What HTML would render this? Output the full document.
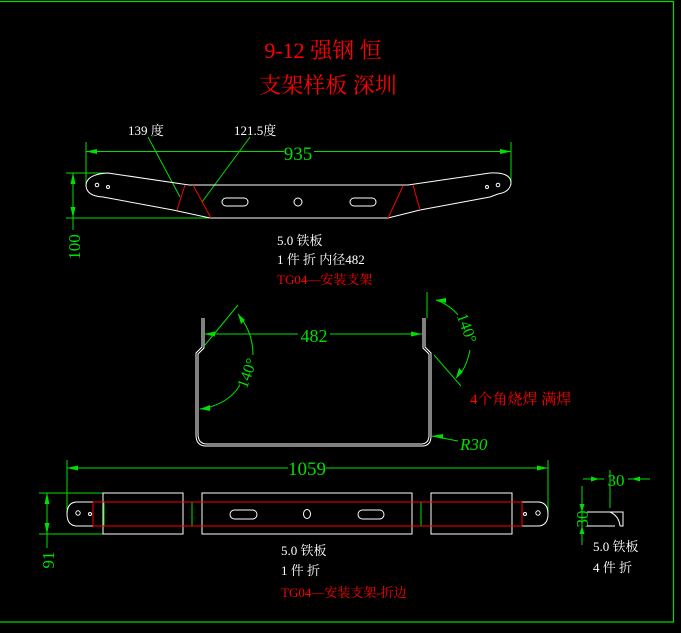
<!DOCTYPE html>
<html><head><meta charset="utf-8"><style>
html,body{margin:0;padding:0;background:#000;}
svg{display:block}
text{font-family:"Liberation Serif","Noto Serif CJK SC","Noto Sans CJK SC",serif;}
</style></head><body>
<svg width="681" height="633" viewBox="0 0 681 633" xmlns="http://www.w3.org/2000/svg">
<rect x="-5" y="1.5" width="678.5" height="620.5" fill="none" stroke="#00e000" stroke-width="1.2"/>
<g fill="#ff0000" font-size="22" text-anchor="middle">
<text x="323" y="58">9-12 强钢 恒</text>
<text x="328" y="93">支架样板 深圳</text>
</g>

<!-- top part -->
<g stroke="#00e000" stroke-width="1" fill="none">
<line x1="86" y1="151.5" x2="284" y2="151.5"/><line x1="314" y1="151.5" x2="511" y2="151.5"/>
<line x1="86" y1="142" x2="86" y2="185"/><line x1="511" y1="142" x2="511" y2="185"/>
<line x1="66" y1="173" x2="105" y2="173"/><line x1="66" y1="218" x2="220" y2="218"/>
<line x1="73" y1="173" x2="73" y2="230"/>
<line x1="148" y1="137" x2="180" y2="197"/>
<line x1="250" y1="137" x2="202" y2="202"/>
</g>
<g fill="#00e000">
<polygon points="86,151.5 97,149 97,154"/><polygon points="511,151.5 500,149 500,154"/>
<polygon points="73,173 70.5,184 75.5,184"/><polygon points="73,218 70.5,207 75.5,207"/>
</g>
<text x="298" y="160" fill="#00e000" font-size="19" text-anchor="middle">935</text>
<text transform="translate(80,247) rotate(-90)" fill="#00e000" font-size="17" text-anchor="middle">100</text>
<g stroke="#fff" stroke-width="1" fill="none">
<path d="M108,173 L189,185 L408,185 L490,173 Q511,172 511,183 Q510,192 498,194 L490,197 L420,210 L388,218 L210,218 L173,210 L103,197 Q86,196 86,185 Q87,174 108,173 Z"/>
<rect x="222" y="198" width="26" height="8" rx="4"/>
<rect x="350" y="198" width="26" height="8" rx="4"/>
<circle cx="298" cy="202" r="4"/>
<circle cx="97" cy="185" r="1.8"/><circle cx="108" cy="187" r="1.5"/>
<circle cx="487" cy="187" r="1.5"/><circle cx="498" cy="185" r="1.8"/>
</g>
<g stroke="#ff0000" stroke-width="1">
<line x1="185" y1="185" x2="177" y2="210"/><line x1="193" y1="185" x2="211" y2="218"/>
<line x1="403" y1="186" x2="388" y2="218"/><line x1="413" y1="185" x2="420" y2="210"/>
</g>
<g fill="#fff" font-size="13">
<text x="128" y="135">139 度</text><text x="234" y="135">121.5度</text>
<text x="277" y="245">5.0 铁板</text>
<text x="277" y="264">1 件 折 内径482</text>
</g>
<text x="277" y="284" fill="#ff0000" font-size="13">TG04—安装支架</text>

<!-- middle U -->
<g stroke="#fff" stroke-width="1" fill="none">
<path d="M202,318 L202,347 L196,353 L196,435 Q196,446 206,446 L422,446 Q431,446 431,436 L431,353 L425,347 L425,318"/>
<path d="M204,318 L204,348 L198,354 L198,434 Q198,444 207,444 L421,444 Q429,444 429,435 L429,354 L423,348 L423,318"/>
</g>
<g stroke="#00e000" stroke-width="1" fill="none">
<line x1="204" y1="334" x2="298" y2="334"/><line x1="330" y1="334" x2="422" y2="334"/>
<line x1="205" y1="345" x2="238" y2="305"/>
<path d="M238,314 Q253,332 253,355"/><path d="M240,385 Q228,405 200,409"/>
<line x1="427" y1="292" x2="427" y2="318"/>
<path d="M436,300 Q450,305 458,315"/><path d="M470,350 Q466,370 456,378"/>
<line x1="434" y1="355" x2="461" y2="386"/>
<line x1="432" y1="436" x2="458" y2="441"/>
</g>
<g fill="#00e000">
<polygon points="204,334 215,331.5 215,336.5"/><polygon points="422,334 411,331.5 411,336.5"/>
<polygon points="238,314 241,324 245,320"/><polygon points="200,409 210,405 210,411"/>
<polygon points="436,300 446,298 446,303"/><polygon points="456,378 459,368 463,372"/>
<polygon points="432,436 443,434 443,439"/>
</g>
<text x="314" y="342" fill="#00e000" font-size="18" text-anchor="middle">482</text>
<text transform="translate(252,375) rotate(-70)" fill="#00e000" font-size="16" text-anchor="middle">140°</text>
<text transform="translate(462,330) rotate(70)" fill="#00e000" font-size="16" text-anchor="middle">140°</text>
<text x="460" y="450" fill="#00e000" font-size="17" font-style="italic">R30</text>
<text x="470" y="404" fill="#ff0000" font-size="15">4个角烧焊 满焊</text>

<!-- bottom flat -->
<g stroke="#00e000" stroke-width="1" fill="none">
<line x1="67" y1="468" x2="288" y2="468"/><line x1="326" y1="468" x2="548" y2="468"/>
<line x1="67" y1="460" x2="67" y2="514"/><line x1="548" y1="460" x2="548" y2="514"/>
<line x1="39" y1="493" x2="103" y2="493"/><line x1="39" y1="534" x2="103" y2="534"/>
<line x1="47" y1="493" x2="47" y2="548"/>
<line x1="192" y1="502" x2="192" y2="526"/><line x1="421" y1="502" x2="421" y2="526"/>
<line x1="104" y1="502" x2="104" y2="526"/><line x1="202" y1="502" x2="202" y2="526"/>
<line x1="412" y1="502" x2="412" y2="526"/><line x1="431" y1="502" x2="431" y2="526"/>
</g>
<g fill="#00e000">
<polygon points="67,468 78,465.5 78,470.5"/><polygon points="548,468 537,465.5 537,470.5"/>
<polygon points="47,493 44.5,504 49.5,504"/><polygon points="47,534 44.5,523 49.5,523"/>
</g>
<text x="307" y="475" fill="#00e000" font-size="19" text-anchor="middle">1059</text>
<text transform="translate(54,560) rotate(-90)" fill="#00e000" font-size="17" text-anchor="middle">91</text>
<g stroke="#fff" stroke-width="1" fill="none">
<rect x="103" y="493" width="80" height="41"/>
<rect x="202" y="493" width="210" height="41"/>
<rect x="431" y="493" width="81" height="41"/>
<path d="M103,502 L76,502 Q67,503 67,514 Q67,525 76,526 L103,526"/>
<path d="M512,502 L539,502 Q548,503 548,514 Q548,525 539,526 L512,526"/>
<line x1="183" y1="502" x2="202" y2="502"/><line x1="183" y1="526" x2="202" y2="526"/>
<line x1="412" y1="502" x2="431" y2="502"/><line x1="412" y1="526" x2="431" y2="526"/>
<rect x="230" y="510" width="27" height="9" rx="4.5"/>
<rect x="358" y="510" width="26" height="9" rx="4.5"/>
<ellipse cx="307" cy="514" rx="3.5" ry="4.5"/>
<circle cx="78" cy="513" r="2.2"/><circle cx="90" cy="514" r="1.5"/>
<circle cx="525" cy="514" r="1.5"/><circle cx="538" cy="513" r="2.2"/>
</g>
<g stroke="#ff0000" stroke-width="1">
<line x1="93" y1="502" x2="522" y2="502"/><line x1="93" y1="526" x2="522" y2="526"/>
<line x1="93" y1="502" x2="93" y2="526"/><line x1="522" y1="502" x2="522" y2="526"/>
</g>
<g fill="#fff" font-size="13">
<text x="281" y="555">5.0 铁板</text>
<text x="281" y="575">1 件 折</text>
<text x="593" y="551">5.0 铁板</text>
<text x="593" y="572">4 件 折</text>
</g>
<text x="281" y="597" fill="#ff0000" font-size="13">TG04—安装支架-折边</text>

<!-- small part -->
<g stroke="#00e000" stroke-width="1" fill="none">
<line x1="583" y1="479" x2="604" y2="479"/><line x1="628" y1="479" x2="650" y2="479"/>
<line x1="610" y1="470" x2="610" y2="508"/>
<line x1="582" y1="486" x2="582" y2="545"/>
</g>
<g fill="#00e000">
<polygon points="599,479 591,476.5 591,481.5"/><polygon points="632,479 640,476.5 640,481.5"/>
<polygon points="582,512 579.5,504 584.5,504"/><polygon points="582,526 579.5,534 584.5,534"/>
</g>
<text x="616" y="486" fill="#00e000" font-size="17" text-anchor="middle">30</text>
<text transform="translate(588,519) rotate(-90)" fill="#00e000" font-size="17" text-anchor="middle">30</text>
<g stroke="#fff" stroke-width="1" fill="none">
<path d="M587,512 L623,512 L623,526 L620,526 M587,526 L615,526"/>
<path d="M610,512 Q619,516 620,526"/>
</g>
</svg>
</body></html>
